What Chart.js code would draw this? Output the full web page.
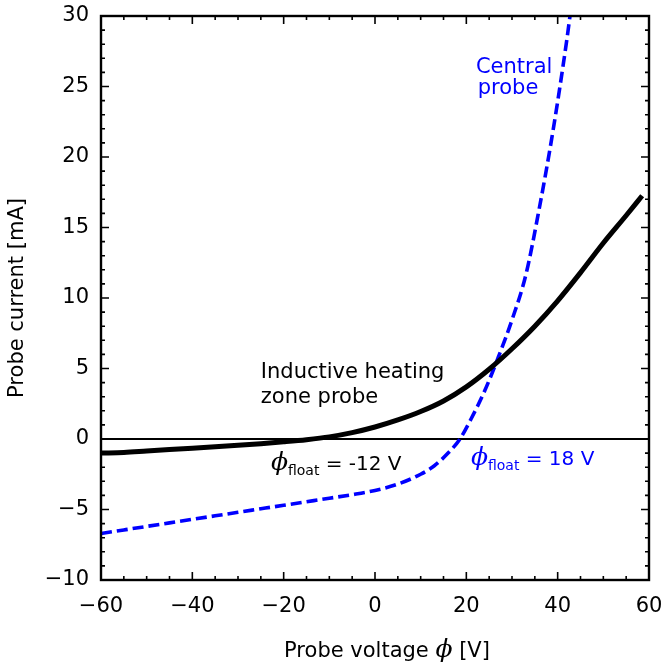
<!DOCTYPE html>
<html>
<head>
<meta charset="utf-8">
<script src="https://cdn.jsdelivr.net/npm/chart.js@4/dist/chart.umd.min.js"></script>
<style>
  html, body { margin: 0; padding: 0; background: #fff; }
  #wrap { width: 662px; height: 664px; }
</style>
</head>
<body>
<div id="wrap"><canvas id="ivChart" width="662" height="664"></canvas></div>
<script>
// probe voltage [V] and probe current [mA]
const inductiveVoltage = [-60, -55, -50, -45, -40, -35, -30, -25, -20, -15, -10, -5, 0, 5, 10, 15, 20, 25, 30, 35, 40, 45, 50, 55, 58.5];
const inductiveCurrent = [-1.0, -0.95, -0.85, -0.75, -0.65, -0.55, -0.45, -0.33, -0.2, -0.05, 0.15, 0.45, 0.85, 1.35, 1.95, 2.7, 3.7, 4.95, 6.4, 8.0, 9.8, 11.8, 13.9, 15.85, 17.25];

const centralVoltage = [-60, -55, -50, -45, -40, -35, -30, -25, -20, -15, -10, -5, 0, 5, 10, 13, 16, 18.6, 21, 24, 27, 30, 33, 36, 39, 42, 42.7];
const centralCurrent = [-6.7, -6.45, -6.2, -5.95, -5.7, -5.45, -5.2, -4.95, -4.7, -4.45, -4.2, -3.95, -3.65, -3.2, -2.5, -1.9, -1.0, 0, 1.4, 3.4, 5.8, 8.45, 11.6, 16.4, 21.9, 28.3, 30];

const xTicks = [-60, -40, -20, 0, 20, 40, 60];
const yTicks = [-10, -5, 0, 5, 10, 15, 20, 25, 30];

const FONT = 'DejaVu Sans';
const BLUE = '#0000ff';

function toPoints(xs, ys) {
  return xs.map((x, i) => ({ x: x, y: ys[i] }));
}

function minus(v) {
  return String(v).replace('-', '\u2212');
}

// axis frame, inward ticks on all sides, zero line
const framePlugin = {
  id: 'frame',
  beforeDatasetsDraw(chart) {
    const { ctx, chartArea: a, scales } = chart;
    const y0 = scales.y.getPixelForValue(0);
    ctx.save();
    ctx.strokeStyle = '#000';
    ctx.lineWidth = 2;
    ctx.beginPath();
    ctx.moveTo(a.left, y0);
    ctx.lineTo(a.right, y0);
    ctx.stroke();
    ctx.restore();
  },
  afterDatasetsDraw(chart) {
    const { ctx, chartArea: a, scales } = chart;
    ctx.save();
    ctx.strokeStyle = '#000';
    ctx.lineWidth = 1.6;
    ctx.beginPath();
    for (let v = -60; v <= 60; v += 5) {
      const px = scales.x.getPixelForValue(v);
      const len = v % 20 === 0 ? 8 : 4;
      ctx.moveTo(px, a.bottom); ctx.lineTo(px, a.bottom - len);
      ctx.moveTo(px, a.top); ctx.lineTo(px, a.top + len);
    }
    for (let v = -10; v <= 30; v += 1) {
      const py = scales.y.getPixelForValue(v);
      const len = v % 5 === 0 ? 8 : 4;
      ctx.moveTo(a.left, py); ctx.lineTo(a.left + len, py);
      ctx.moveTo(a.right, py); ctx.lineTo(a.right - len, py);
    }
    ctx.stroke();
    ctx.lineWidth = 2.4;
    ctx.strokeRect(a.left, a.top, a.right - a.left, a.bottom - a.top);
    ctx.restore();
  }
};

// text labels inside the plot and the x axis title
function drawPhiLabel(ctx, x, y, rest, color) {
  ctx.fillStyle = color;
  ctx.textBaseline = 'alphabetic';
  ctx.textAlign = 'left';
  ctx.font = 'italic 25px "DejaVu Serif"';
  ctx.fillText('\u03d5', x, y);
  let cx = x + ctx.measureText('\u03d5').width;
  ctx.font = '14px ' + FONT;
  ctx.fillText('float', cx, y + 5);
  cx += ctx.measureText('float').width;
  ctx.font = '20px ' + FONT;
  ctx.fillText(rest, cx, y);
}

const labelPlugin = {
  id: 'labels',
  afterDraw(chart) {
    const { ctx, chartArea: a, scales } = chart;
    const px = v => scales.x.getPixelForValue(v);
    const py = v => scales.y.getPixelForValue(v);
    ctx.save();
    ctx.textBaseline = 'alphabetic';
    ctx.textAlign = 'left';
    ctx.font = '21px ' + FONT;
    ctx.fillStyle = '#000';
    ctx.fillText('Inductive heating', px(-25), py(4.33));
    ctx.fillText('zone probe', px(-25), py(2.55));
    ctx.fillStyle = BLUE;
    ctx.fillText('Central', px(22.1), py(25.96));
    ctx.fillText('probe', px(22.5), py(24.5));

    drawPhiLabel(ctx, px(-22.8), py(-2.2), ' = -12 V', '#000');
    drawPhiLabel(ctx, px(21.0), py(-1.84), ' = 18 V', BLUE);

    // x axis title with italic phi
    const parts = [['Probe voltage ', '21px ' + FONT], ['\u03d5', 'italic 25px "DejaVu Serif"'], [' [V]', '21px ' + FONT]];
    let total = 0;
    parts.forEach(p => { ctx.font = p[1]; total += ctx.measureText(p[0]).width; });
    let cx = (a.left + a.right) / 2 + 12 - total / 2;
    ctx.fillStyle = '#000';
    parts.forEach(p => {
      ctx.font = p[1];
      ctx.fillText(p[0], cx, 657);
      cx += ctx.measureText(p[0]).width;
    });
    ctx.restore();
  }
};

new Chart(document.getElementById('ivChart'), {
  type: 'line',
  data: {
    datasets: [
      {
        label: 'Inductive heating zone probe',
        data: toPoints(inductiveVoltage, inductiveCurrent),
        borderColor: '#000',
        borderWidth: 5,
        pointRadius: 0,
        cubicInterpolationMode: 'monotone',
        fill: false
      },
      {
        label: 'Central probe',
        data: toPoints(centralVoltage, centralCurrent),
        borderColor: BLUE,
        borderWidth: 3.6,
        borderDash: [11, 5],
        pointRadius: 0,
        cubicInterpolationMode: 'monotone',
        fill: false
      }
    ]
  },
  options: {
    responsive: false,
    animation: false,
    layout: { padding: { left: 0, right: 13, top: 16, bottom: 0 } },
    plugins: {
      legend: { display: false },
      tooltip: { enabled: false }
    },
    scales: {
      x: {
        type: 'linear',
        min: -60,
        max: 60,
        afterBuildTicks: scale => { scale.ticks = xTicks.map(v => ({ value: v })); },
        afterFit: scale => {
          scale.height = 84;
          scale.paddingLeft = 0;
          scale.paddingRight = 0;
        },
        grid: { display: false, drawTicks: false },
        border: { display: false },
        ticks: {
          color: '#000',
          padding: 14,
          maxRotation: 0,
          font: { family: FONT, size: 21 },
          callback: v => minus(v)
        }
      },
      y: {
        type: 'linear',
        min: -10,
        max: 30,
        afterBuildTicks: scale => { scale.ticks = yTicks.map(v => ({ value: v })); },
        afterFit: scale => {
          scale.width = 101;
          scale.paddingTop = 0;
          scale.paddingBottom = 0;
        },
        grid: { display: false, drawTicks: false },
        border: { display: false },
        title: {
          display: true,
          text: 'Probe current [mA]',
          color: '#000',
          font: { family: FONT, size: 21 },
          padding: { top: 5, bottom: 0 }
        },
        ticks: {
          color: '#000',
          padding: 12,
          font: { family: FONT, size: 21 },
          callback: v => minus(v)
        }
      }
    }
  },
  plugins: [framePlugin, labelPlugin]
});
</script>
</body>
</html>
